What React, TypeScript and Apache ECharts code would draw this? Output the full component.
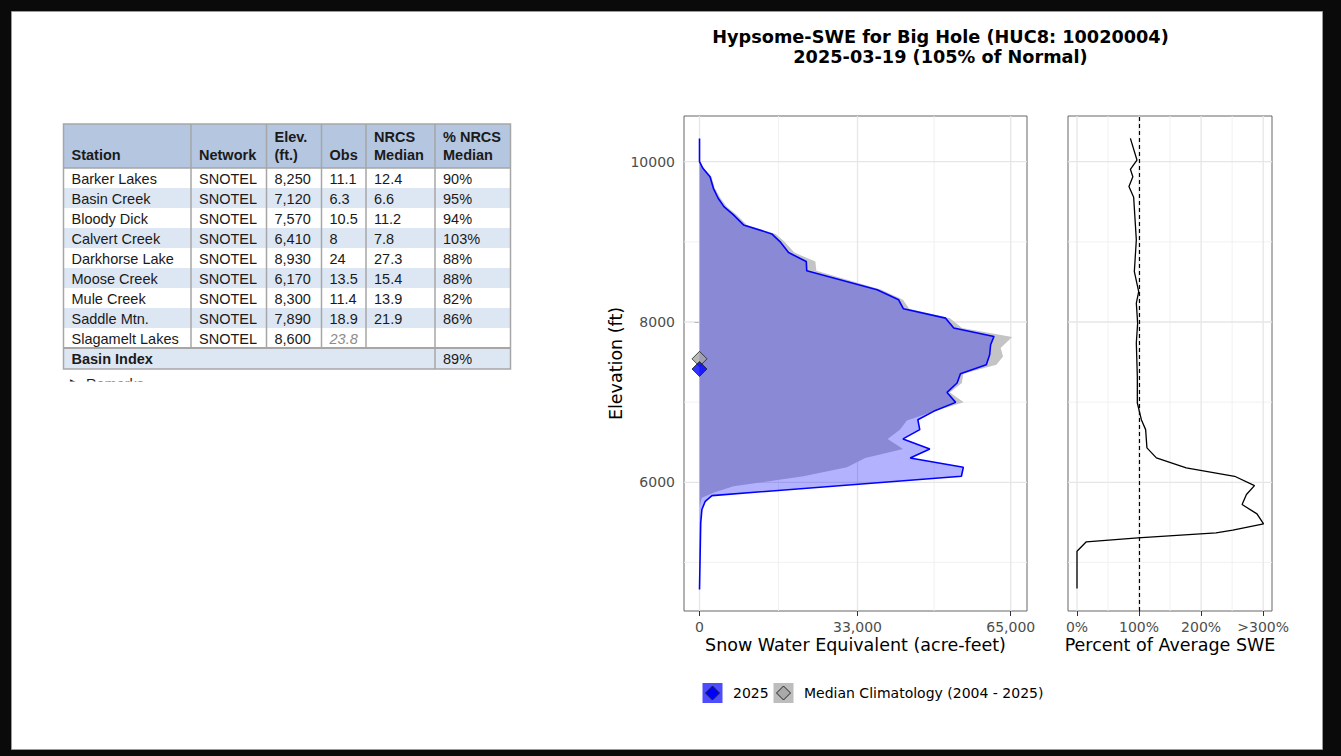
import React, { useEffect, useRef } from "react";
import * as echarts from "echarts";

// ---------------- Data ----------------
const titleLine1 = "Hypsome-SWE for Big Hole (HUC8: 10020004)";
const titleLine2 = "2025-03-19 (105% of Normal)";

const tableHeaders: string[][] = [["Station"], ["Network"], ["Elev.", "(ft.)"], ["Obs"], ["NRCS", "Median"], ["% NRCS", "Median"]];
const stations = ["Barker Lakes", "Basin Creek", "Bloody Dick", "Calvert Creek", "Darkhorse Lake", "Moose Creek", "Mule Creek", "Saddle Mtn.", "Slagamelt Lakes"];
const networks = ["SNOTEL", "SNOTEL", "SNOTEL", "SNOTEL", "SNOTEL", "SNOTEL", "SNOTEL", "SNOTEL", "SNOTEL"];
const stationElev = ["8,250", "7,120", "7,570", "6,410", "8,930", "6,170", "8,300", "7,890", "8,600"];
const stationObs = ["11.1", "6.3", "10.5", "8", "24", "13.5", "11.4", "18.9", "23.8"];
const obsEstimated = [false, false, false, false, false, false, false, false, true];
const stationMedian = ["12.4", "6.6", "11.2", "7.8", "27.3", "15.4", "13.9", "21.9", ""];
const stationPct = ["90%", "95%", "94%", "103%", "88%", "88%", "82%", "86%", ""];
const basinIndexLabel = "Basin Index";
const basinIndexValue = "89%";
const remarksLabel = "\u25B6 Remarks";

// 2025 hypsometric SWE (acre-feet) by elevation (ft)
const elev2025 = [10290, 10000, 9918, 9813, 9668, 9544, 9439, 9336, 9211, 9099, 9003, 8866, 8754, 8638, 8401, 8277, 8165, 8048, 7924, 7819, 7716, 7591, 7465, 7354, 7239, 7121, 6997, 6885, 6781, 6657, 6541, 6416, 6304, 6187, 6075, 5834, 5763, 5660, 5494, 4663];
const swe2025 = [0, 0, 700, 2200, 2900, 3900, 5100, 7100, 9200, 15100, 16800, 18600, 22300, 22400, 37100, 41600, 42600, 51400, 53100, 61500, 60800, 60600, 59900, 54500, 53800, 51700, 53500, 48900, 45600, 46000, 42500, 48100, 44000, 55100, 54700, 2600, 1200, 500, 250, 0];

// Median climatology (2004 - 2025)
const elevMedian = [10290, 10000, 9918, 9813, 9668, 9544, 9439, 9336, 9211, 9099, 9003, 8866, 8754, 8638, 8401, 8277, 8165, 8048, 7924, 7812, 7675, 7570, 7466, 7354, 7239, 7121, 6997, 6885, 6772, 6657, 6541, 6416, 6304, 6187, 6075, 5950, 5868, 5806, 5700, 4663];
const sweMedian = [0, 100, 900, 2500, 3200, 4400, 5700, 7800, 9900, 15900, 17700, 19800, 24200, 24400, 38000, 42500, 43800, 52300, 54800, 65300, 62900, 63400, 62000, 55100, 54800, 52300, 55200, 49000, 43300, 41900, 39300, 42500, 34600, 30800, 21700, 7100, 2900, 500, 0, 0];

// Percent of average SWE by elevation
const elevPct = [10291, 10021, 9905, 9813, 9689, 9556, 9024, 8629, 8380, 8235, 7986, 7737, 7321, 6989, 6781, 6657, 6429, 6304, 6179, 6075, 5959, 5847, 5722, 5606, 5481, 5402, 5369, 5307, 5257, 5140, 4675];
const pctValues = [86, 96.6, 86, 90, 83.7, 91.3, 95.6, 92.4, 99.4, 95.6, 97.7, 95.6, 97.2, 97.2, 103.7, 110.6, 112.7, 127.9, 176, 254, 286, 273, 266, 290, 300.6, 251, 224, 98, 15, 0, 0];

// Mean SWE elevation markers
const markerElev2025 = 7413;
const markerElevMedian = 7540;

// Axis ticks
const sweTicks = [0, 33000, 65000];
const sweMinor = [16500, 49000];
const elevTicks = [6000, 8000, 10000];
const elevMinor = [5000, 7000, 9000];
const pctTicks = [0, 100, 200, 300];
const pctMinor = [50, 150, 250];
const pctReference = 100;

const legendLabels = ["2025", "Median Climatology (2004 - 2025)"];
const xTitleMain = "Snow Water Equivalent (acre-feet)";
const xTitlePct = "Percent of Average SWE";
const yTitle = "Elevation (ft)";

// ---------------- Layout ----------------
const SWE_MIN = -3240, SWE_MAX = 68400;
const ELEV_MIN = 4394, ELEV_MAX = 10570;
const PCT_MIN = -14.5, PCT_MAX = 314.2;

const FONT = "'DejaVu Sans', Verdana, sans-serif";
const TFONT = "'Liberation Sans', Arial, sans-serif";

function txt(text: string, x: number, y: number, o: any = {}) {
  return {
    type: "text",
    silent: true,
    z: o.z ?? 10,
    rotation: o.rotation ?? 0,
    x: o.rotation ? x : 0,
    y: o.rotation ? y : 0,
    style: {
      text,
      x: o.rotation ? 0 : x,
      y: o.rotation ? 0 : y,
      fill: o.fill ?? "#000",
      fontSize: o.size ?? 14,
      fontFamily: o.family ?? FONT,
      fontWeight: o.weight ?? "normal",
      fontStyle: o.style ?? "normal",
      align: o.align ?? "left",
      verticalAlign: o.va ?? "middle",
      textAlign: o.align ?? "left",
      textVerticalAlign: o.va ?? "middle",
    },
  };
}

function buildTable(): any[] {
  const g: any[] = [];
  const COL = [63.5, 191, 266.5, 321.5, 366, 435, 510.5];
  const HT = 124, HB = 168, RH = 20;
  const nRows = stations.length;
  const basinTop = HB + nRows * RH;
  const basinBottom = basinTop + 21;
  const border = "#a6a6a6";
  g.push({ type: "rect", silent: true, z: 5, shape: { x: COL[0], y: HT, width: COL[6] - COL[0], height: HB - HT }, style: { fill: "#b4c6e0" } });
  for (let i = 0; i < nRows; i++) {
    g.push({ type: "rect", silent: true, z: 5, shape: { x: COL[0], y: HB + i * RH, width: COL[6] - COL[0], height: RH }, style: { fill: i % 2 === 0 ? "#ffffff" : "#dde7f4" } });
  }
  g.push({ type: "rect", silent: true, z: 5, shape: { x: COL[0], y: basinTop, width: COL[6] - COL[0], height: basinBottom - basinTop }, style: { fill: "#dde7f4" } });
  for (let c = 1; c <= 5; c++) {
    g.push({ type: "line", silent: true, z: 6, shape: { x1: COL[c], y1: HT, x2: COL[c], y2: c === 5 ? basinBottom : basinTop }, style: { stroke: border, lineWidth: 1.5 } });
  }
  g.push({ type: "line", silent: true, z: 6, shape: { x1: COL[0], y1: HB, x2: COL[6], y2: HB }, style: { stroke: border, lineWidth: 1.5 } });
  g.push({ type: "line", silent: true, z: 6, shape: { x1: COL[0], y1: basinTop, x2: COL[6], y2: basinTop }, style: { stroke: border, lineWidth: 2 } });
  g.push({ type: "rect", silent: true, z: 6, shape: { x: COL[0], y: HT, width: COL[6] - COL[0], height: basinBottom - HT }, style: { fill: "none", stroke: border, lineWidth: 1.5 } });

  const P = 8;
  tableHeaders.forEach((lines, c) => {
    const ys = lines.length === 1 ? [155] : [137, 155];
    lines.forEach((t, k) => g.push(txt(t, COL[c] + P, ys[k], { size: 14.5, family: TFONT, weight: "bold", fill: "#1a1a1a" })));
  });
  const cols = [stations, networks, stationElev, stationObs, stationMedian, stationPct];
  for (let i = 0; i < nRows; i++) {
    const y = HB + i * RH + 10.5;
    cols.forEach((col, c) => {
      const val = col[i];
      if (!val) return;
      const est = c === 3 && obsEstimated[i];
      g.push(txt(val, COL[c] + P, y, { size: 14.5, family: TFONT, fill: est ? "#8c8c8c" : "#1a1a1a", style: est ? "italic" : "normal" }));
    });
  }
  g.push(txt(basinIndexLabel, COL[0] + P, basinTop + 11, { size: 14.5, family: TFONT, weight: "bold", fill: "#1a1a1a" }));
  g.push(txt(basinIndexValue, COL[5] + P, basinTop + 11, { size: 14.5, family: TFONT, fill: "#1a1a1a" }));
  // clipped "Remarks" line
  g.push(txt(remarksLabel, 70, 376.5, { size: 14.5, family: TFONT, fill: "#1a1a1a", va: "top" }));
  g.push({ type: "rect", silent: true, z: 12, shape: { x: 60, y: 381.5, width: 200, height: 20 }, style: { fill: "#ffffff" } });
  return g;
}

function buildFrame(): any[] {
  const black = "#0a0a0a";
  return [
    { type: "rect", silent: true, z: 50, shape: { x: 0, y: 0, width: 1341, height: 11.5 }, style: { fill: black } },
    { type: "rect", silent: true, z: 50, shape: { x: 0, y: 0, width: 11.5, height: 756 }, style: { fill: black } },
    { type: "rect", silent: true, z: 50, shape: { x: 1322.5, y: 0, width: 18.5, height: 756 }, style: { fill: black } },
    { type: "rect", silent: true, z: 50, shape: { x: 0, y: 749.5, width: 1341, height: 6.5 }, style: { fill: black } },
    { type: "rect", silent: true, z: 51, shape: { x: 11.5, y: 11.5, width: 1311, height: 738 }, style: { fill: "none", stroke: "#9a9a9a", lineWidth: 1 } },
  ];
}

function diamond(cx: number, cy: number, r: number, fill: string) {
  return { type: "polygon", silent: true, z: 11, shape: { points: [[cx, cy - r], [cx + r, cy], [cx, cy + r], [cx - r, cy]] }, style: { fill, stroke: "#222", lineWidth: 1 } };
}

function buildLegendAndTitles(): any[] {
  const g: any[] = [];
  g.push(txt(titleLine1, 940.5, 37, { size: 17.7, weight: "bold", align: "center" }));
  g.push(txt(titleLine2, 940.5, 56.5, { size: 17.7, weight: "bold", align: "center" }));
  g.push(txt(yTitle, 615.5, 363.5, { size: 17.5, align: "center", rotation: Math.PI / 2 }));
  g.push(txt(xTitleMain, 855.5, 645, { size: 17.5, align: "center" }));
  g.push(txt(xTitlePct, 1170, 645, { size: 17.5, align: "center" }));
  // legend
  g.push({ type: "rect", silent: true, z: 10, shape: { x: 702.5, y: 683, width: 20, height: 20 }, style: { fill: "#4d4dff" } });
  g.push(diamond(712.5, 693, 7, "#0000ff"));
  g.push(txt(legendLabels[0], 733, 693, { size: 14 }));
  g.push({ type: "rect", silent: true, z: 10, shape: { x: 773.5, y: 683, width: 20, height: 20 }, style: { fill: "#bdbdbd" } });
  g.push(diamond(783.5, 693, 7, "#a9a9a9"));
  g.push(txt(legendLabels[1], 804, 693, { size: 14 }));
  return g;
}

function gridLineSeries(xIdx: number, vMajor: number[], vMinor: number[], hMajor: number[], hMinor: number[], xMin: number, xMax: number) {
  const data: number[][] = [];
  const xMid = (xMin + xMax) / 2;
  const yMid = (ELEV_MIN + ELEV_MAX) / 2;
  vMinor.forEach((v) => data.push([v, yMid, 0, 0]));
  hMinor.forEach((v) => data.push([xMid, v, 1, 0]));
  vMajor.forEach((v) => data.push([v, yMid, 0, 1]));
  hMajor.forEach((v) => data.push([xMid, v, 1, 1]));
  return {
    type: "custom",
    xAxisIndex: xIdx,
    yAxisIndex: xIdx,
    silent: true,
    z: 1,
    clip: false,
    encode: { x: 0, y: 1 },
    data,
    renderItem: (_p: any, api: any) => {
      const vx = api.value(0), vy = api.value(1), o = api.value(2), major = api.value(3);
      const a = o === 0 ? api.coord([vx, ELEV_MIN]) : api.coord([xMin, vy]);
      const b = o === 0 ? api.coord([vx, ELEV_MAX]) : api.coord([xMax, vy]);
      return {
        type: "line",
        shape: { x1: a[0], y1: a[1], x2: b[0], y2: b[1] },
        style: { stroke: major ? "#e6e6e6" : "#efefef", lineWidth: major ? 1.3 : 0.9 },
      };
    },
  };
}

function areaSeries(xs: number[], ys: number[], fill: string, z: number) {
  return {
    type: "custom",
    xAxisIndex: 0,
    yAxisIndex: 0,
    silent: true,
    z,
    clip: true,
    data: [[0, ys[0]]],
    renderItem: (_p: any, api: any) => {
      const pts = xs.map((x, i) => api.coord([x, ys[i]]));
      pts.push(api.coord([0, ys[ys.length - 1]]));
      pts.push(api.coord([0, ys[0]]));
      return { type: "polygon", shape: { points: pts }, style: { fill, stroke: "none" } };
    },
  };
}

function buildOption(): any {
  const axisLabelBase = { color: "#4d4d4d", fontSize: 14, fontFamily: FONT };
  return {
    animation: false,
    backgroundColor: "#ffffff",
    grid: [
      { left: 684, top: 116, width: 343, height: 495, show: true, borderColor: "#666666", borderWidth: 1, backgroundColor: "transparent" },
      { left: 1068, top: 116, width: 204, height: 495, show: true, borderColor: "#666666", borderWidth: 1, backgroundColor: "transparent" },
    ],
    xAxis: [
      {
        type: "value", gridIndex: 0, min: SWE_MIN, max: SWE_MAX,
        axisLine: { show: false }, splitLine: { show: false },
        axisTick: { show: true, length: 5, customValues: sweTicks, lineStyle: { color: "#333" } },
        axisLabel: { ...axisLabelBase, margin: 9, customValues: sweTicks, formatter: (v: number) => v.toLocaleString("en-US") },
      },
      {
        type: "value", gridIndex: 1, min: PCT_MIN, max: PCT_MAX,
        axisLine: { show: false }, splitLine: { show: false },
        axisTick: { show: true, length: 5, customValues: pctTicks, lineStyle: { color: "#333" } },
        axisLabel: { ...axisLabelBase, margin: 9, customValues: pctTicks, formatter: (v: number) => (v >= 300 ? ">300%" : `${v}%`) },
      },
    ],
    yAxis: [
      {
        type: "value", gridIndex: 0, min: ELEV_MIN, max: ELEV_MAX,
        axisLine: { show: false }, splitLine: { show: false },
        axisTick: { show: true, length: 5, customValues: elevTicks, lineStyle: { color: "#333" } },
        axisLabel: { ...axisLabelBase, margin: 9, customValues: elevTicks, formatter: (v: number) => `${v}` },
      },
      {
        type: "value", gridIndex: 1, min: ELEV_MIN, max: ELEV_MAX,
        axisLine: { show: false }, splitLine: { show: false },
        axisTick: { show: false }, axisLabel: { show: false },
      },
    ],
    graphic: { elements: [...buildTable(), ...buildLegendAndTitles(), ...buildFrame()] },
    series: [
      gridLineSeries(0, sweTicks, sweMinor, elevTicks, elevMinor, SWE_MIN, SWE_MAX),
      gridLineSeries(1, pctTicks, pctMinor, elevTicks, elevMinor, PCT_MIN, PCT_MAX),
      areaSeries(sweMedian, elevMedian, "#c4c4c4", 2),
      areaSeries(swe2025, elev2025, "rgba(0,0,255,0.3)", 3),
      {
        type: "line", xAxisIndex: 0, yAxisIndex: 0, z: 4, silent: true, showSymbol: false, symbol: "none",
        data: swe2025.map((s, i) => [s, elev2025[i]]),
        lineStyle: { color: "#0000ff", width: 1.6 },
      },
      {
        type: "scatter", xAxisIndex: 0, yAxisIndex: 0, z: 5, silent: true, symbol: "diamond", symbolSize: 15,
        data: [[0, markerElevMedian]],
        itemStyle: { color: "#a6a6a6", borderColor: "#222", borderWidth: 1 },
      },
      {
        type: "scatter", xAxisIndex: 0, yAxisIndex: 0, z: 6, silent: true, symbol: "diamond", symbolSize: 15,
        data: [[0, markerElev2025]],
        itemStyle: { color: "#0000ff", borderColor: "#222", borderWidth: 1 },
      },
      {
        type: "line", xAxisIndex: 1, yAxisIndex: 1, z: 4, silent: true, showSymbol: false, symbol: "none",
        data: pctValues.map((p, i) => [p, elevPct[i]]),
        lineStyle: { color: "#000000", width: 1.3 },
        markLine: {
          silent: true, symbol: "none", label: { show: false },
          lineStyle: { color: "#000000", width: 1.2, type: [4, 3] },
          data: [{ xAxis: pctReference }],
        },
      },
    ],
  };
}

export default function App() {
  const ref = useRef<HTMLDivElement>(null);
  useEffect(() => {
    const chart = echarts.init(ref.current!, null, { renderer: "svg" });
    chart.setOption(buildOption());
    return () => chart.dispose();
  }, []);
  return <div ref={ref} style={{ position: "absolute", left: 0, top: 0, width: 1341, height: 756 }} />;
}
